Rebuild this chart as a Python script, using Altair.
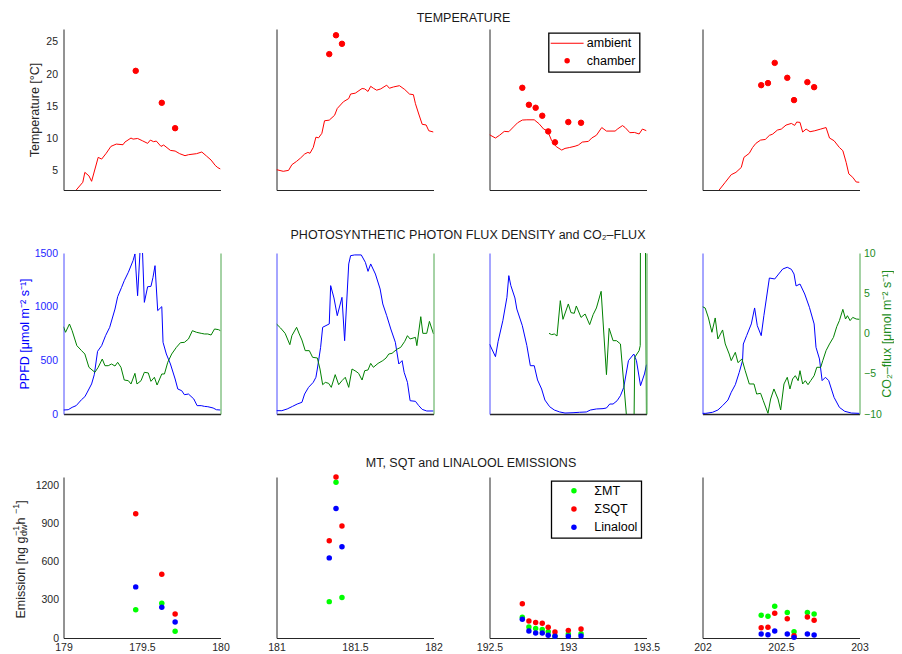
import altair as alt
import pandas as pd

FONT = "Liberation Sans"
INK = "#262626"
W, H = 157, 161

# window start (day of year) of the four columns
day0 = [179.0, 181.0, 192.5, 202.0]

# ---------------- row 1: ambient temperature (time in window [d], °C) ----------------
amb1_t = [0.04, 0.081, 0.123, 0.136, 0.162, 0.179, 0.221, 0.243, 0.272, 0.302, 0.336, 0.379, 0.391, 0.430,
          0.443, 0.472, 0.502, 0.536, 0.553, 0.574, 0.591, 0.621, 0.638, 0.681, 0.711, 0.740, 0.774, 0.796,
          0.847, 0.881, 0.911, 0.940, 0.966, 0.983, 1.0]
amb1_v = [0.5, 2.0, 3.2, 4.74, 4.2, 3.35, 7.07, 6.8, 7.7, 8.77, 9.13, 9.03, 9.44, 10.07, 9.9, 10.0, 9.65,
          9.24, 9.75, 9.5, 9.6, 8.77, 8.98, 8.15, 8.05, 7.64, 7.33, 7.48, 7.64, 7.9, 7.27, 6.65, 5.83, 5.47, 5.26]
amb2_t = [0, .043, .077, .098, .128, .153, .179, .2, .213, .234, .251, .268, .289, .306, .336, .37, .387, .426,
          .46, .472, .502, .545, .562, .583, .6, .617, .638, .664, .702, .719, .745, .783, .817, .847, .872, .885,
          .906, .928, .953, .97, 1.0]
amb2_v = [5.16, 4.9, 5.05, 5.93, 6.45, 6.96, 7.58, 7.84, 7.7, 8.6, 10.2, 10.1, 10.8, 12.75, 12.85, 13.6, 14.66,
          15.7, 16.2, 16.9, 17.04, 17.76, 17.7, 17.3, 18.1, 17.8, 17.5, 17.7, 18.28, 17.8, 18.0, 18.2, 17.6, 16.9,
          16.8, 15.4, 13.8, 12.2, 12.1, 11.2, 11.0]
amb3_t = [0, .038, .064, .094, .123, .153, .179, .209, .238, .285, .315, .345, .37, .396, .426, .46, .481, .511,
          .545, .566, .591, .63, .651, .681, .715, .745, .8, .817, .847, .864, .894, .923, .953, .974, 1.0]
amb3_v = [10.58, 10.07, 10.5, 11.1, 11.05, 11.8, 12.44, 12.86, 12.9, 12.9, 12.3, 11.46, 11.2, 9.65, 8.72, 8.2,
          8.46, 8.6, 8.8, 8.98, 9.44, 9.55, 10.07, 10.5, 11.7, 11.15, 11.15, 11.5, 12.0, 11.7, 10.9, 10.94, 10.7,
          11.46, 11.2]
amb4_t = [.09, .106, .145, .183, .213, .247, .264, .298, .319, .34, .37, .4, .426, .447, .477, .502, .532, .566,
          .587, .6, .621, .638, .66, .685, .715, .753, .787, .809, .838, .872, .894, .915, .932, .957, .979, 1.0]
amb4_v = [1.0, 2.0, 3.2, 4.38, 4.74, 5.5, 7.07, 7.7, 8.6, 9.24, 9.75, 9.85, 10.48, 10.68, 11.3, 11.46, 12.08,
          12.34, 12.03, 12.55, 12.5, 11.0, 11.46, 11.05, 11.2, 11.46, 11.7, 10.07, 9.65, 8.6, 8.1, 6.29, 4.5,
          3.97, 3.24, 3.2]

# chamber temperature / emission sampling times
smp1_t = [.46, .626, .711]
smp2_t = [.336, .379, .417]
smp3_t = [.209, .251, .294, .336, .374, .417, .502, .583]
smp4_t = [.374, .417, .46, .54, .583, .668, .711]
ch1_v = [20.5, 15.54, 11.6]
ch2_v = [23.1, 26.03, 24.7]
ch3_v = [17.87, 15.23, 14.77, 13.53, 11.1, 9.4, 12.55, 12.44]
ch4_v = [18.28, 18.6, 21.74, 19.42, 15.96, 18.75, 17.97]

# ---------------- row 2: PPFD and CO2 flux ----------------
ppfd1_t = [0, .03, .055, .081, .115, .136, .149, .179, .196, .217, .243, .268, .294, .328, .345, .37, .387, .413,
           .443, .455, .472, .489, .502, .515, .536, .557, .57, .583, .6, .626, .634, .655, .681, .711, .728, .753,
           .77, .796, .83, .851, .877, .898, .919, .953, .974, 1.0]
ppfd1_v = [37, 40, 62, 78, 134, 161, 196, 280, 366, 584, 637, 730, 807, 978, 1093, 1180, 1242, 1320, 1429, 1491,
           1102, 1560, 1560, 1040, 1186, 1189, 1273, 1382, 963, 1000, 668, 559, 466, 326, 233, 217, 180, 186, 140,
           78, 78, 71, 68, 56, 40, 37]
ppfd2_t = [0, .034, .068, .102, .132, .162, .179, .204, .234, .251, .26, .281, .294, .336, .345, .366, .387, .417,
           .434, .46, .472, .498, .54, .566, .583, .6, .63, .66, .677, .702, .728, .757, .779, .8, .813, .834, .851,
           .885, .906, .928, .957, 1.0]
ppfd2_v = [31, 31, 47, 71, 93, 109, 186, 248, 295, 342, 419, 621, 808, 839, 1196, 1081, 916, 1087, 683, 1398,
           1475, 1482, 1482, 1413, 1329, 1398, 1304, 1165, 1025, 916, 792, 668, 466, 497, 388, 295, 124, 118, 78,
           43, 28, 28]
ppfd3_t = [0, .038, .055, .085, .111, .123, .136, .162, .174, .209, .238, .26, .285, .306, .332, .353, .383, .413,
           .447, .481, .532, .574, .617, .643, .681, .723, .745, .766, .787, .813, .834, .855, .885, .919, .936,
           .962, .987, 1.0]
ppfd3_v = [652, 534, 677, 870, 1087, 1289, 1196, 1081, 978, 823, 637, 450, 450, 317, 233, 130, 68, 37, 19, 9, 12,
           16, 19, 37, 47, 50, 56, 93, 93, 124, 171, 248, 497, 559, 497, 264, 373, 460]
ppfd4_t = [0, .021, .064, .098, .128, .162, .183, .209, .234, .255, .26, .281, .311, .332, .349, .374, .391, .426,
           .46, .485, .511, .54, .566, .583, .596, .621, .651, .681, .711, .723, .745, .762, .783, .804, .838, .872,
           .906, .949, 1.0]
ppfd4_v = [6, 6, 16, 37, 78, 130, 202, 273, 388, 497, 652, 730, 839, 988, 823, 730, 916, 1267, 1258, 1304, 1351,
           1367, 1348, 1304, 1193, 1211, 1118, 994, 839, 621, 513, 311, 342, 311, 155, 62, 25, 9, 6]

co2_1_t = [0, .013, .038, .055, .085, .115, .136, .162, .2, .221, .247, .264, .285, .306, .328, .345, .366, .387,
           .413, .43, .455, .468, .494, .515, .54, .557, .579, .596, .626, .643, .664, .689, .719, .745, .77, .796,
           .821, .847, .877, .898, .919, .94, .962, .987, 1.0]
co2_1_v = [0.85, 0.15, 1.18, 0.35, -1.51, -2.13, -2.55, -4.2, -4.82, -4.2, -3.17, -4.0, -4.0, -3.79, -4.04, -3.58,
           -4.2, -5.78, -5.86, -6.27, -4.95, -6.27, -5.86, -4.82, -4.9, -5.94, -5.44, -6.4, -5.03, -5.03, -3.58,
           -2.55, -1.72, -1.14, -1.1, -0.68, 0.35, 0.15, 0.02, -0.06, -0.06, -0.19, 0.56, 0.48, 0.35]
co2_2_t = [0, .026, .055, .085, .098, .128, .145, .162, .183, .209, .23, .26, .277, .294, .311, .332, .349, .374,
           .396, .417, .438, .46, .481, .506, .523, .545, .562, .583, .6, .617, .647, .677, .698, .715, .736, .766,
           .791, .817, .834, .851, .885, .894, .919, .932, .957, .974, 1.0]
co2_2_v = [1.18, 0.68, 0.02, -1.39, -0.27, 0.77, -0.06, -0.81, -2.13, -2.13, -2.96, -3.04, -4.41, -6.36, -6.07,
           -6.19, -6.69, -5.11, -6.36, -5.86, -5.44, -6.69, -4.41, -4.7, -4.95, -5.78, -4.62, -4.53, -3.71, -4.2,
           -3.71, -3.37, -3.04, -2.55, -2.46, -1.97, -1.72, -0.97, -0.27, -0.68, -0.48, -1.51, 2.09, 0.02, 0.02,
           1.51, -0.06]
co2_3_t = [.379, .396, .413, .43, .451, .468, .502, .519, .54, .553, .583, .609, .638, .66, .681, .711, .745, .762,
           .787, .809, .834, .88, .92, .925, .953, .96, .963, .988, 1.0]
co2_3_v = [0.02, -0.14, -0.06, -0.31, 4.08, 1.76, 3.67, 2.59, 2.51, 3.42, 2.0, 2.42, 1.1, 2.34, 3.17, 5.24, -5.11,
           0.64, -0.89, -0.89, -1.3, -12, -12, -2.96, -2.13, -1.5, 30, 30, -12]
co2_4_t = [0, .017, .038, .06, .081, .098, .128, .145, .17, .183, .209, .226, .251, .272, .298, .328, .345, .37,
           .387, .417, .434, .455, .481, .498, .519, .54, .557, .574, .591, .609, .621, .638, .655, .672, .689, .711,
           .728, .753, .766, .787, .809, .834, .855, .872, .894, .911, .923, .94, .957, .979, 1.0]
co2_4_v = [3.33, 3.17, 1.93, 0.15, 1.93, -0.68, 0.44, -1.3, -2.55, -3.37, -2.34, -3.62, -3.17, -4.62, -6.27, -6.27,
           -7.52, -7.43, -8.34, -9.92, -8.14, -6.89, -8.14, -9.5, -6.27, -5.44, -6.89, -5.65, -5.24, -5.86, -4.62,
           -6.27, -5.86, -6.36, -5.86, -5.24, -4.2, -4.2, -3.37, -2.13, -1.3, -0.48, 0.85, 1.6, 3.0, 1.8, 2.21, 1.6,
           2.0, 1.8, 1.76]

# ---------------- row 3: emissions (ng g-1 h-1) ----------------
mt1 = [223, 273, 53]
sqt1 = [977, 502, 189]
lin1 = [402, 242, 126]
mt2 = [286, 1224, 318]
sqt2 = [764, 1266, 880]
lin2 = [630, 1019, 717]
mt3 = [163, 87, 74, 66, 50, 15, 32, 34]
sqt3 = [270, 134, 121, 116, 84, 47, 60, 71]
lin3 = [147, 55, 39, 39, 21, 13, 13, 16]
mt4 = [179, 171, 249, 200, 50, 200, 189]
sqt4 = [81, 84, 194, 152, 18, 165, 139]
lin4 = [32, 26, 55, 32, 5, 32, 24]

compounds = ["ΣMT", "ΣSQT", "Linalool"]
compound_colors = ["#00ff00", "#ff0000", "#0000ff"]

row_titles = ["TEMPERATURE", "PHOTOSYNTHETIC PHOTON FLUX DENSITY and CO₂–FLUX", "MT, SQT and LINALOOL EMISSIONS"]

amb_t = [amb1_t, amb2_t, amb3_t, amb4_t]
amb_v = [amb1_v, amb2_v, amb3_v, amb4_v]
smp_t = [smp1_t, smp2_t, smp3_t, smp4_t]
ch_v = [ch1_v, ch2_v, ch3_v, ch4_v]
ppfd_t = [ppfd1_t, ppfd2_t, ppfd3_t, ppfd4_t]
ppfd_v = [ppfd1_v, ppfd2_v, ppfd3_v, ppfd4_v]
co2_t = [co2_1_t, co2_2_t, co2_3_t, co2_4_t]
co2_v = [co2_1_v, co2_2_v, co2_3_v, co2_4_v]
em = [(mt1, sqt1, lin1), (mt2, sqt2, lin2), (mt3, sqt3, lin3), (mt4, sqt4, lin4)]


def frame(base, t, v, series=None):
    d = pd.DataFrame({"day": [base + x for x in t], "val": v})
    if series is not None:
        d["series"] = series
    return d


def xenc(base, show, dw=1):
    return alt.X("day:Q", title=None,
                 scale=alt.Scale(domain=[base, base + 1], nice=False, zero=False),
                 axis=alt.Axis(values=[base, base + 0.5, base + 1], format="~f", labels=show,
                               domainColor=INK, domainWidth=dw, labelColor=INK, labelPadding=4))


def row_title(r, dx, offset):
    return alt.TitleParams(row_titles[r], fontSize=12.5, fontWeight="normal", font=FONT, anchor="middle",
                           baseline="top", offset=offset, color="#1a1a1a", dx=dx)


def temp_panel(i):
    base = day0[i]
    yax = alt.Axis(values=[5, 10, 15, 20, 25], format="d", labels=(i == 0), domainColor=INK, labelColor=INK,
                   labelPadding=6, titleX=-29, titleBaseline="middle", titleColor=INK)
    y = alt.Y("val:Q", title="Temperature [°C]" if i == 0 else None,
              scale=alt.Scale(domain=[2, 27], nice=False, zero=False), axis=yax)
    line = alt.Chart(frame(base, amb_t[i], amb_v[i])).mark_line(
        color="#ff0000", strokeWidth=1, clip=True).encode(x=xenc(base, False), y=y)
    leg = None
    if i == 2:
        leg = alt.Legend(title=None, orient="none", legendX=59.1, legendY=4, strokeColor="black",
                         fillColor="white", padding=4, symbolOffset=8.3, labelOffset=13.4, rowPadding=4.5,
                         symbolSize=30, symbolFillColor="#ff0000", symbolStrokeColor="#ff0000",
                         symbolStrokeWidth=1, labelFontSize=12.5, labelColor="black", labelFont=FONT)
    pts = alt.Chart(frame(base, smp_t[i], ch_v[i], "chamber")).mark_point(
        filled=True, size=30, fill="#ff0000", stroke="#ff0000", strokeWidth=1, opacity=1).encode(
        x=xenc(base, False), y=y,
        shape=alt.Shape("series:N", scale=alt.Scale(domain=["ambient", "chamber"],
                                                    range=["M-6,-0.2H6V0.2H-6Z", "circle"]), legend=leg))
    ch = alt.layer(line, pts).properties(width=W, height=H)
    if i == 1:
        ch = ch.properties(title=row_title(0, 108.5, 4.6))
    return ch


def flux_panel(i):
    base = day0[i]
    lax = alt.Axis(orient="left", values=[0, 500, 1000, 1500], format="d", labels=(i == 0),
                   domainColor="#4d4dff", labelColor="#1f1fff", labelPadding=6, titleX=-39,
                   titleBaseline="middle", titleColor="#0000ff")
    rax = alt.Axis(orient="right", values=[-10, -5, 0, 5, 10], format="d", labels=(i == 3),
                   domainColor="#4ca64c", labelColor="#1e8c1e", labelPadding=4, titleX=27, titleAngle=270,
                   titleBaseline="middle", titleColor="#1e8c1e")
    p = alt.Chart(frame(base, ppfd_t[i], ppfd_v[i])).mark_line(color="#0000ff", strokeWidth=1, clip=True).encode(
        x=xenc(base, False, 1.6),
        y=alt.Y("val:Q", title="PPFD [μmol m⁻² s⁻¹]" if i == 0 else None,
                scale=alt.Scale(domain=[0, 1500], nice=False), axis=lax))
    c = alt.Chart(frame(base, co2_t[i], co2_v[i])).mark_line(color="#008000", strokeWidth=1, clip=True).encode(
        x=xenc(base, False, 1.6),
        y=alt.Y("val:Q", title="CO₂–flux [μmol m⁻² s⁻¹]" if i == 3 else None,
                scale=alt.Scale(domain=[-10, 10], nice=False, zero=False), axis=rax))
    ch = alt.layer(p, c).resolve_scale(y="independent").properties(width=W, height=H)
    if i == 1:
        ch = ch.properties(title=row_title(1, 113, 12))
    return ch


def emis_panel(i):
    base = day0[i]
    rows = []
    for x, a, b, c in zip(smp_t[i], *em[i]):
        rows += [(base + x, a, compounds[0]), (base + x, b, compounds[1]), (base + x, c, compounds[2])]
    df = pd.DataFrame(rows, columns=["day", "val", "cmp"])
    leg = None
    if i == 2:
        leg = alt.Legend(title=None, orient="none", legendX=61.8, legendY=4, strokeColor="black",
                         fillColor="white", padding=3.6, symbolOffset=12.8, labelOffset=14.1, rowPadding=5.2,
                         symbolSize=30, symbolType="circle", labelFontSize=12.5, labelColor="black",
                         labelFont=FONT)
    yax = alt.Axis(values=[0, 300, 600, 900, 1200], format="d", labels=(i == 0), domainColor=INK,
                   labelColor=INK, labelPadding=5)
    pts = alt.Chart(df).mark_circle(size=30, opacity=1).encode(
        x=xenc(base, True),
        y=alt.Y("val:Q", title=None, scale=alt.Scale(domain=[0, 1266], nice=False), axis=yax),
        color=alt.Color("cmp:N", scale=alt.Scale(domain=compounds, range=compound_colors), legend=leg))
    layers = [pts]
    if i == 0:
        one = pd.DataFrame({"k": [0]})
        pieces = [("Emission [ng g", 12.5, -43, 141.6), ("−1", 9, -48, 59.0), ("dw", 9, -39.5, 59.0),
                  (" h", 12.5, -43, 47.5), ("−1", 9, -48, 37.1), ("]", 12.5, -43, 26.8)]
        for txt, fs, px, py in pieces:
            layers.append(alt.Chart(one).mark_text(text=txt, angle=270, align="left", baseline="middle",
                                                   fontSize=fs, font=FONT, color=INK).encode(
                x=alt.value(px), y=alt.value(py)))
    ch = alt.layer(*layers).properties(width=W, height=H)
    if i == 1:
        ch = ch.properties(title=row_title(2, 116, 4.7))
    return ch


panels = [temp_panel(i) for i in range(4)] + [flux_panel(i) for i in range(4)] + [emis_panel(i) for i in range(4)]

chart = alt.concat(*panels, columns=4, spacing={"row": 63, "column": 56}, bounds="flush").resolve_scale(
    color="independent", shape="independent").resolve_legend(color="independent", shape="independent"
).configure(font=FONT, padding={"left": 3.5, "top": 3, "right": 0, "bottom": 0}
).configure_view(stroke=None
).configure_axis(grid=False, ticks=False, labelFont=FONT, titleFont=FONT, labelFontSize=10.5,
                 titleFontSize=12.5, titleFontWeight="normal", labelFlush=False, labelOverlap=False,
                 domainWidth=1
).configure_legend(strokeWidth=1.3)

chart.save("out.html", embed_options={"renderer": "svg", "actions": False})
